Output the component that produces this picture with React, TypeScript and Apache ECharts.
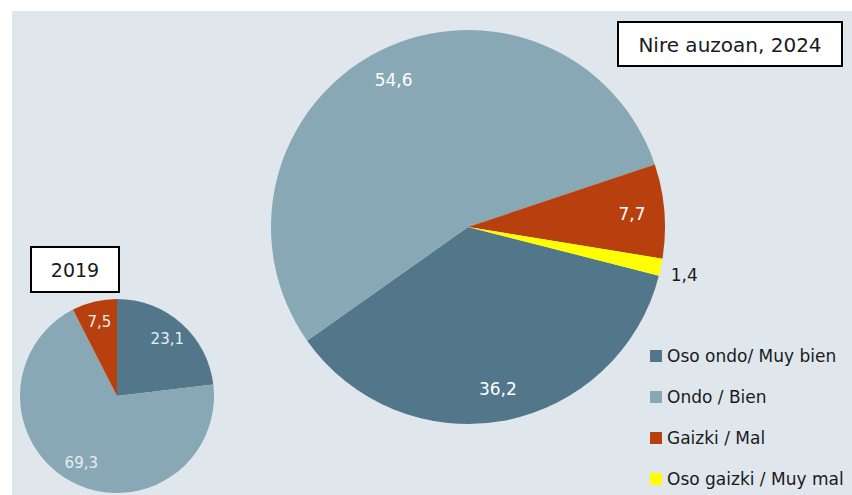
import React, { useEffect, useRef } from "react";
import * as echarts from "echarts";

const categories = ["Oso ondo/ Muy bien", "Ondo / Bien", "Gaizki / Mal", "Oso gaizki / Muy mal"];
const values2024 = [36.2, 54.6, 7.7, 1.4];
const values2019 = [23.1, 69.3, 7.5];
const colors = ["#52778a", "#87a8b4", "#b8400f", "#ffff00"];
const title2024 = "Nire auzoan, 2024";
const title2019 = "2019";

const FONT = "DejaVu Sans";
const fmt = (p: any) => Number(p.value).toFixed(1).replace(".", ",");

export default function App() {
  const ref = useRef<HTMLDivElement>(null);
  useEffect(() => {
    if (!ref.current) return;
    const chart = echarts.init(ref.current, null, { renderer: "svg" });
    const data2024 = values2024.map((v, i) => ({ name: categories[i], value: v, itemStyle: { color: colors[i] } }));
    const data2019 = values2019.map((v, i) => ({ name: categories[i], value: v, itemStyle: { color: colors[i] } }));
    const bigCenter = [468, 227];
    const bigR = 197;
    const smallCenter = [117, 396];
    const smallR = 97;
    chart.setOption({
      animation: false,
      backgroundColor: "transparent",
      textStyle: { fontFamily: FONT },
      legend: {
        orient: "vertical",
        left: 650,
        top: 346,
        height: 149,
        padding: 0,
        icon: "rect",
        itemWidth: 12,
        itemHeight: 12,
        itemGap: 21,
        itemTextGap: 3,
        data: categories,
        textStyle: { fontSize: 17, lineHeight: 20, color: "#1a1a1a", fontFamily: FONT },
      },
      graphic: [
        { type: "rect", z: -100, shape: { x: 12, y: 11, width: 840, height: 484 }, style: { fill: "#dfe7ec" } },
        { type: "rect", z: 10, shape: { x: 618, y: 22, width: 224, height: 44 }, style: { fill: "#ffffff", stroke: "#000000", lineWidth: 2 } },
        { type: "text", z: 11, x: 730, y: 45, style: { text: title2024, align: "center", verticalAlign: "middle", fontSize: 20, fontFamily: FONT, fill: "#1a1a1a" } },
        { type: "rect", z: 10, shape: { x: 31, y: 247, width: 88, height: 45 }, style: { fill: "#ffffff", stroke: "#000000", lineWidth: 2 } },
        { type: "text", z: 11, x: 75, y: 270, style: { text: title2019, align: "center", verticalAlign: "middle", fontSize: 19, fontFamily: FONT, fill: "#1a1a1a" } },
      ],
      series: [
        {
          type: "pie",
          center: bigCenter,
          radius: [0, bigR],
          startAngle: -14.3,
          data: data2024,
          label: { show: false },
          labelLine: { show: false },
          emphasis: { disabled: true },
          silent: true,
        },
        {
          type: "pie",
          center: smallCenter,
          radius: [0, smallR],
          startAngle: 90,
          data: data2019,
          label: { show: false },
          labelLine: { show: false },
          emphasis: { disabled: true },
          silent: true,
        },
        {
          type: "pie",
          center: bigCenter,
          radius: [bigR * 0.64, bigR],
          startAngle: -14.3,
          avoidLabelOverlap: false,
          data: values2024.map((v, i) => ({
            name: categories[i],
            value: v,
            itemStyle: { color: "rgba(0,0,0,0)" },
            label: i === 3 ? { position: "outside", color: "#1a1a1a" } : undefined,
          })),
          itemStyle: { color: "rgba(0,0,0,0)" },
          label: { show: true, position: "inside", formatter: fmt, color: "#ffffff", fontSize: 17, fontFamily: FONT },
          labelLine: { show: false, length: 5, length2: 0 },
          labelLayout: (p: any) => (p.dataIndex === 3 ? { dy: 7 } : {}),
          emphasis: { disabled: true },
          silent: true,
          z: 5,
        },
        {
          type: "pie",
          center: smallCenter,
          radius: [smallR * 0.5, smallR],
          startAngle: 90,
          avoidLabelOverlap: false,
          data: values2019.map((v, i) => ({ name: categories[i], value: v, itemStyle: { color: "rgba(0,0,0,0)" } })),
          itemStyle: { color: "rgba(0,0,0,0)" },
          label: { show: true, position: "inside", formatter: fmt, color: "#e8eef1", fontSize: 15, fontFamily: FONT },
          labelLine: { show: false },
          emphasis: { disabled: true },
          silent: true,
          z: 5,
        },
      ],
    });
    return () => chart.dispose();
  }, []);
  return (
    <div style={{ position: "fixed", left: 0, top: 0, width: 852, height: 495, background: "#ffffff" }}>
      <div ref={ref} style={{ width: 852, height: 495 }} />
    </div>
  );
}
